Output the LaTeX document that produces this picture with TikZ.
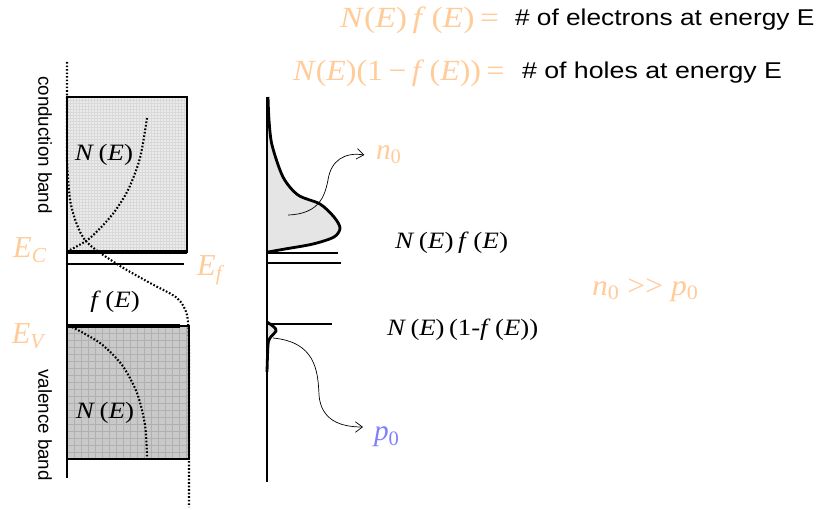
\documentclass[tikz,border=0pt]{standalone}
\usepackage{fontspec}
\setmainfont{Liberation Serif}
\setsansfont{Liberation Sans}
\usetikzlibrary{arrows.meta}
\definecolor{lorange}{RGB}{255,204,153}
\definecolor{lblue}{RGB}{128,128,255}
\newcommand{\hs}[2]{\scalebox{#1}[1]{#2}}
\newcommand{\iv}[1]{\textit{#1}}
\begin{document}
\begin{tikzpicture}[x=0.03cm,y=-0.03cm,
  every node/.style={inner sep=0pt,outer sep=0pt},
  orangelbl/.style={text=lorange,font=\fontsize{25}{28}\selectfont},
  blacklbl/.style={text=black,font=\fontsize{20}{22}\selectfont},
  sanslbl/.style={text=black,font=\sffamily\fontsize{19.5}{22}\selectfont},
  bandlbl/.style={text=black,font=\sffamily\fontsize{16}{18}\selectfont,rotate=-90},
  elbl/.style={text=lorange,font=\fontsize{26}{28}\selectfont},
  axisline/.style={line width=1.6pt},
  levelline/.style={line width=1.5pt},
  dotcurve/.style={line width=1.8pt,dash pattern=on 1.4pt off 1.6pt},
  distcurve/.style={line width=2.4pt},
  thinarrow/.style={line width=0.6pt,-{Straight Barb[length=6pt,width=9pt]}}]
\useasboundingbox (0,0) rectangle (821,510);

% ---------- top formulas
\node[orangelbl,anchor=west] (f1) at (340,20) {\hs{1.15}{\iv{N}(\iv{E})\,\iv{f}\,(\iv{E})\,=}};
\node[sanslbl,anchor=west] (t1) at (515,20) {\hs{1.15}{\# of electrons at energy E}};
\node[orangelbl,anchor=west] (f2) at (293,73) {\hs{1.09}{\iv{N}(\iv{E})(1\,−\,\iv{f}\,(\iv{E}))\,=}};
\node[sanslbl,anchor=west] (t2) at (522,73) {\hs{1.17}{\# of holes at energy E}};

% ---------- left panel: bands
\begin{scope}
\clip (67,97) rectangle (187,252);
\fill[gray!16] (67,97) rectangle (187,252);
\foreach \i in {0,3,...,120} \draw[gray!30,line width=0.2pt] (67+\i,97) -- (67+\i,252);
\foreach \j in {0,3,...,156} \draw[gray!30,line width=0.2pt] (67,97+\j) -- (187,97+\j);
\end{scope}
\draw[levelline] (67,97) rectangle (187,252);
\draw[line width=2.6pt] (67,252) -- (187,252);

\begin{scope}
\clip (67,326) rectangle (189,459);
\fill[gray!42] (67,326) rectangle (189,459);
\foreach \i in {0,7,...,122} \draw[gray!62,line width=0.4pt] (67+\i,326) -- (67+\i,459);
\foreach \j in {0,7,...,133} \draw[gray!62,line width=0.4pt] (67,326+\j) -- (189,326+\j);
\end{scope}
\draw[levelline] (67,326) rectangle (189,459);
\draw[line width=2.6pt] (67,326) -- (180,326);

\draw[levelline] (67,264) -- (184,264);
\draw[axisline] (67,97) -- (67,478);

% Fermi function
\draw[dotcurve] (67,62) -- (67,160) plot[smooth] coordinates {(67,160) (71,205) (85,240) (117,264) (150,283) (177,298) (187,315) (189,345)} -- (189,507);
% density of states
\draw[dotcurve] plot[smooth] coordinates {(70,250) (90,238) (112,215) (128,190) (140,158) (147,118)};
\draw[dotcurve] plot[smooth] coordinates {(72,327) (100,343) (122,365) (137,393) (145,425) (147,457)};

\node[bandlbl] (cb) at (45,145) {conduction band};
\node[bandlbl] (vb) at (45,425) {valence band};

\node[elbl] (ec) at (30,250) {\iv{E}\textsubscript{\iv{C}}};
\node[elbl] (ef) at (211,270) {\iv{E}\textsubscript{\iv{f}}};
\node[elbl] (ev) at (29,336) {\iv{E}\textsubscript{\iv{V}}};

\node[blacklbl] (ne1) at (104,155) {\hs{1.15}{\iv{N}\,(\iv{E})}};
\node[blacklbl] (fe) at (115,302) {\hs{1.15}{\iv{f}\,(\iv{E})}};
\node[blacklbl] (ne2) at (105,413) {\hs{1.15}{\iv{N}\,(\iv{E})}};

% ---------- right panel
\fill[gray!20] (267,97) plot[smooth] coordinates {(268,97) (269,120) (272,145) (283,177) (298,195) (320,204) (334,217) (340,228) (334,237) (313,244) (285,249) (268,252)} -- cycle;
\draw[distcurve] plot[smooth] coordinates {(268,97) (269,120) (272,145) (283,177) (298,195) (320,204) (334,217) (340,228) (334,237) (313,244) (285,249) (268,252)};
\fill[gray!20] (267,322) plot[smooth] coordinates {(267,322) (274,327) (276,331) (270,338) (268,345)} -- cycle;
\draw[distcurve] plot[smooth] coordinates {(267,322) (274,327) (276,331) (270,338) (268,345) (267,372)};

\draw[axisline] (267,97) -- (267,482);
\draw[line width=2pt] (267,253) -- (338,253);
\draw[levelline] (267,263) -- (341,263);
\draw[levelline] (267,324) -- (332,324);

\node[orangelbl,anchor=west] (n0) at (376,155) {\iv{n}\textsubscript{0}};
\node[orangelbl,anchor=west,text=lblue] (p0) at (374,437) {\iv{p}\textsubscript{0}};
\coordinate (na) at (288,215);
\coordinate (pa) at (273,338);
\coordinate (pe) at (363,427);
\draw[thinarrow] (na) .. controls (320,214) and (325,195) .. (328,180) .. controls (331,160) and (345,152) .. ([xshift=-10]n0.west);
\draw[thinarrow] (pa) .. controls (315,342) and (318,370) .. (319,395) .. controls (321,420) and (340,427) .. (pe);

\node[blacklbl,anchor=west] (nf) at (395,243) {\hs{1.16}{\iv{N}\,(\iv{E})\,\iv{f}\,(\iv{E})}};
\node[blacklbl,anchor=west] (nh) at (387,330) {\hs{1.14}{\iv{N}\,(\iv{E})\,(1-\iv{f}\,(\iv{E}))}};
\node[orangelbl,anchor=west] (cmp) at (592,290) {\hs{1.08}{\iv{n}\textsubscript{0}\ >{}>\ \iv{p}\textsubscript{0}}};
\end{tikzpicture}
\end{document}
